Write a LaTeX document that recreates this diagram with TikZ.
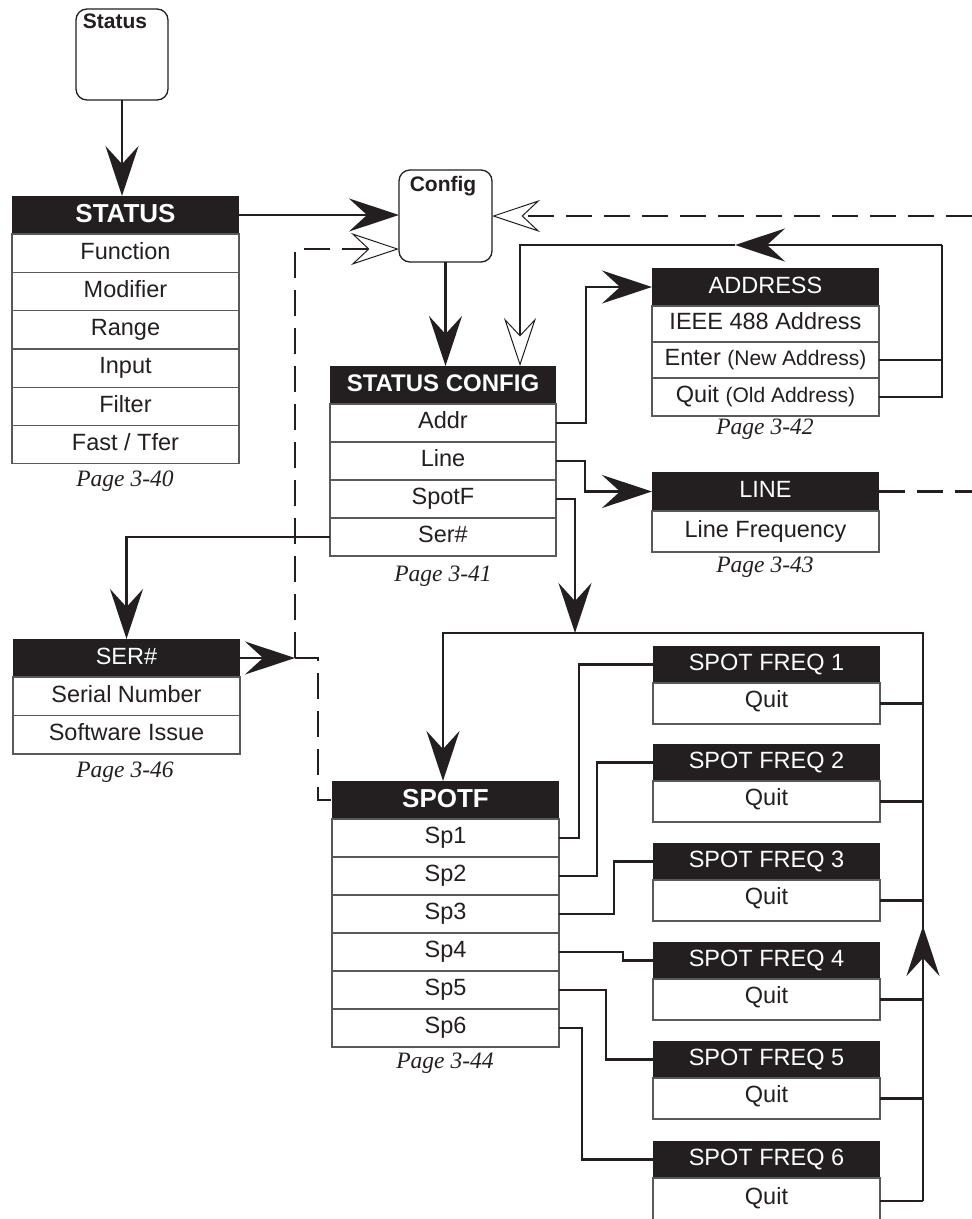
\documentclass[tikz,border=0pt]{standalone}
\usepackage{fontspec}
\setmainfont{Liberation Sans}
\newfontfamily\serifit{Liberation Serif}
\usetikzlibrary{arrows.meta,calc}
\definecolor{ink}{HTML}{231F20}
\definecolor{rule}{HTML}{58595B}
\tikzset{
  bigtip/.tip={Stealth[length=50pt,width=33pt,inset=18pt]},
  opentip/.tip={Stealth[open,fill=white,length=48pt,width=32pt,inset=17pt,line width=1pt]},
}
\begin{document}
\begin{tikzpicture}[x=1pt,y=-1pt,
  every node/.style={inner sep=0pt,outer sep=0pt},
  hdrbold/.style={fill=ink,text=white,anchor=north west,minimum width=227pt,minimum height=38pt,
     font=\fontsize{26}{26}\selectfont\bfseries,text height=18.6pt,text depth=4pt},
  hdr/.style={fill=ink,text=white,anchor=north west,minimum width=227pt,minimum height=38pt,
     font=\fontsize{23.5}{24}\selectfont,text height=16.8pt,text depth=4pt},
  cell/.style={draw=rule,line width=1.3pt,fill=white,text=ink,anchor=north west,minimum width=227pt,
     font=\fontsize{23.5}{24}\selectfont,text height=16.8pt,text depth=5pt},
  quitcell/.style={cell,text depth=9pt},
  rbtn/.style={draw=ink,line width=1.3pt,rounded corners=11pt,fill=white,anchor=north west},
  btnlbl/.style={text=ink,font=\fontsize{21}{21}\selectfont\bfseries,anchor=base},
  pagelbl/.style={text=ink,font=\serifit\itshape\fontsize{23.5}{24}\selectfont},
  conn/.style={draw=ink,line width=2.4pt},
  dconn/.style={conn,dash pattern=on 26pt off 12pt}]
\useasboundingbox (0,0) rectangle (972,1219);

% ---- round buttons
\node[rbtn,minimum width=92pt,minimum height=91pt] (statusbtn) at (76,9) {};
\node[btnlbl] (statuslbl) at (115,28) {Status};
\node[rbtn,minimum width=93pt,minimum height=92pt] (config) at (399,170) {};
\node[btnlbl] (configlbl) at (443,191) {Config};

% ---- STATUS
\node[hdrbold] (st-h) at (12,196) {STATUS};
\foreach \t [count=\i] in {Function,Modifier,Range,Input,Filter,Fast / Tfer}
  \node[cell,minimum height=38.3pt] (st\i) at (12,{234+38.3*(\i-1)}) {\t};
\node[pagelbl] (p340) at (125,481) {Page 3-40};

% ---- STATUS CONFIG
\node[hdrbold,minimum width=226pt,font=\fontsize{24}{24}\selectfont\bfseries,text height=17.2pt] (sc-h) at (330,366) {STATUS CONFIG};
\foreach \t [count=\i] in {Addr,Line,SpotF,Ser\#}
  \node[cell,minimum width=226pt,minimum height=38pt] (sc\i) at (330,{404+38*(\i-1)}) {\t};
\node[pagelbl] (p341) at (443,576) {Page 3-41};

% ---- ADDRESS
\node[hdr] (ad-h) at (652,268) {ADDRESS};
\node[cell,minimum height=36pt] (ad1) at (652,306) {IEEE 488 Address};
\node[cell,minimum height=36pt] (ad2) at (652,342) {Enter {\fontsize{21}{21}\selectfont(New Address)}};
\node[cell,minimum height=38pt] (ad3) at (652,378) {Quit {\fontsize{21}{21}\selectfont(Old Address)}};
\node[pagelbl] (p342) at (765,429) {Page 3-42};

% ---- LINE
\node[hdr,minimum height=39pt] (ln-h) at (652,472) {LINE};
\node[cell,minimum height=41pt] (ln1) at (652,511) {Line Frequency};
\node[pagelbl] (p343) at (765,567) {Page 3-43};

% ---- SER#
\node[hdr] (ser-h) at (13,639) {SER\#};
\node[cell,minimum height=38.5pt] (ser1) at (13,677) {Serial Number};
\node[cell,minimum height=38.5pt] (ser2) at (13,715.5) {Software Issue};
\node[pagelbl] (p346) at (125,772) {Page 3-46};

% ---- SPOTF
\node[hdrbold] (sp-h) at (332,781) {SPOTF};
\foreach \i in {1,...,6}
  \node[cell,minimum height=38pt] (sp\i) at (332,{819+38*(\i-1)}) {Sp\i};
\node[pagelbl] (p344) at (445,1063) {Page 3-44};

% ---- SPOT FREQ boxes
\foreach \i/\top/\qh in {1/646/41,2/744/41,3/843/41,4/942/41,5/1041/41,6/1141/46}{
  \node[hdr,minimum height=37pt] (sf\i-h) at (653,\top) {SPOT FREQ \i};
  \node[quitcell,minimum height=\qh pt] (sf\i-q) at (653,{\top+37}) {Quit};
}

% ---- coordinates
\coordinate (edge) at (972,0);
\coordinate (dj) at (295,658);
\coordinate (dj2) at (318,658);
\coordinate (cfgL2) at (399,249);
\coordinate (loopR) at (942,245);
\coordinate (loopL) at (520,245);
\coordinate (loopTip) at (735,245);
\coordinate (kAddr) at (586,0);
\coordinate (kLine) at (585,0);
\coordinate (kSpot) at (575,633);
\coordinate (busL) at (443,633);
\coordinate (busR) at (923,633);
\coordinate (upTip) at (923,926);

% ---- connectors
\draw[conn,-bigtip] (statusbtn.south) -- (statusbtn.south |- st-h.north);
\draw[conn,-bigtip] (st-h.east) -- (st-h.east -| config.west);
\draw[dconn,-opentip] (config.east -| edge) -- (config.east);
\draw[conn,-bigtip] (config.south) -- (config.south |- sc-h.north);

\draw[conn,-bigtip] (sc4.west) -| (ser-h.north);
\draw[conn,-bigtip] (ser-h.east) -- (dj);
\draw[dconn,-opentip] (dj) -- (dj |- cfgL2) -- (cfgL2);
\draw[dconn] (dj) -- (dj2) -- (dj2 |- sp-h.west) -- (sp-h.west);

\draw[conn,-bigtip] (sc1.east) -- (sc1.east -| kAddr) |- (ad-h.west);
\draw[conn] (ad2.east) -- (ad2.east -| loopR);
\draw[conn] (ad3.east) -- (ad3.east -| loopR) -- (loopR);
\draw[conn,-bigtip] (loopR) -- (loopTip);
\draw[conn,-opentip] (loopTip) -- (loopL) -- (loopL |- sc-h.north);

\draw[conn,-bigtip] (sc2.east) -- (sc2.east -| kLine) |- (ln-h.west);
\draw[dconn] (ln-h.east) -- (ln-h.east -| edge);

\draw[conn,-bigtip] (sc3.east) -| (kSpot);
\draw[conn,-bigtip] (busR |- sf6-q.east) -- (busR) -- (busL) -- (busL |- sp-h.north);
\draw[conn,-bigtip] (busR |- sf6-q.east) -- (upTip);
\foreach \i in {1,...,6}
  \draw[conn] (sf\i-q.east) -- (sf\i-q.east -| busR);
\foreach \i/\kx in {1/579,2/597,3/614,4/623,5/606,6/582}{
  \coordinate (k\i) at (\kx,0);
  \draw[conn] (sp\i.east) -- (sp\i.east -| k\i) |- (sf\i-h.west);
}
\end{tikzpicture}
\end{document}
